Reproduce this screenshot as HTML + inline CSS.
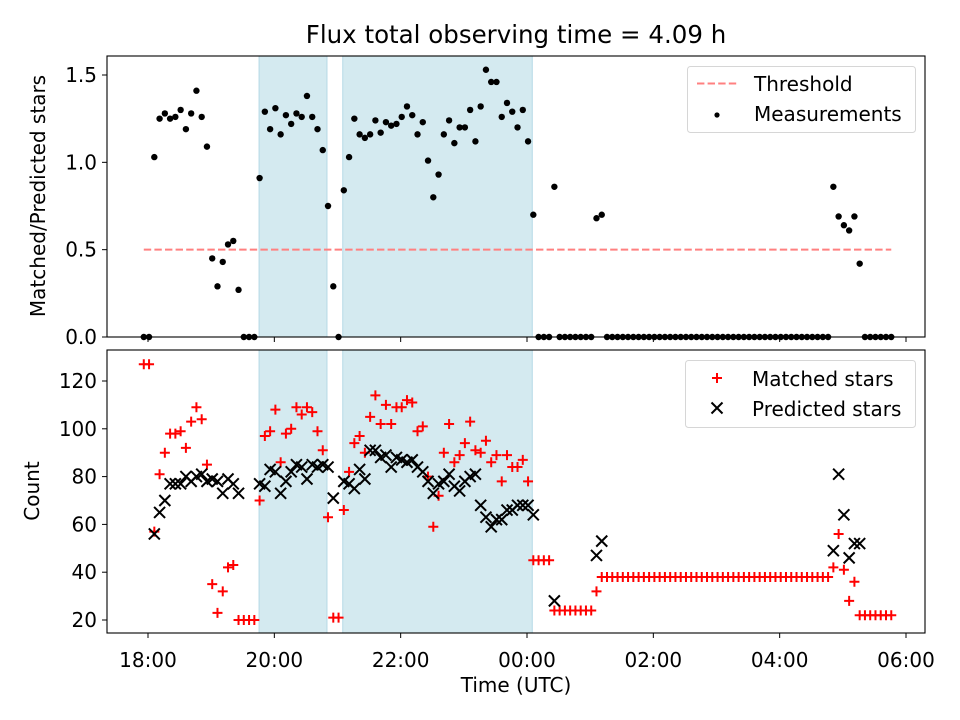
<!DOCTYPE html>
<html><head><meta charset="utf-8">
<style>
body{margin:0;background:#fff;}
svg{display:block;font-family:"DejaVu Sans","Liberation Sans",sans-serif;}
</style></head>
<body>
<svg id="chart" width="960" height="720" viewBox="0 0 960 720" xmlns="http://www.w3.org/2000/svg">
<rect width="960" height="720" fill="#fff"/>
<text x="516" y="43" font-size="24.5" text-anchor="middle" fill="#000">Flux total observing time = 4.09 h</text>
<g id="top"></g>
<g id="bot"></g>
<text transform="translate(45,196) rotate(-90)" font-size="20" text-anchor="middle">Matched/Predicted stars</text>
<text transform="translate(39,491) rotate(-90)" font-size="20" text-anchor="middle">Count</text>
<text x="516" y="692" font-size="20" text-anchor="middle">Time (UTC)</text>
</svg>
<script>
// minutes since 18:00 UTC
const times = [-4,1,6,11,16,21,26,31,36,41,46,51,56,61,66,71,76,81,86,91,96,101,106,111,116,121,126,131,136,141,146,151,156,161,166,171,176,181,186,191,196,201,206,211,216,221,226,231,236,241,246,251,256,261,266,271,276,281,286,291,296,301,306,311,316,321,326,331,336,341,346,351,356,361,366,371,376,381,386,391,396,401,406,411,416,421,426,431,436,441,446,451,456,461,466,471,476,481,486,491,496,501,506,511,516,521,526,531,536,541,546,551,556,561,566,571,576,581,586,591,596,601,606,611,616,621,626,631,636,641,646,651,656,661,666,671,676,681,686,691,696,701,706];
const ratio = [0,0,
1.03,1.25,1.28,1.25,1.26,1.30,1.19,1.28,1.41,1.26,1.09,0.45,0.29,0.43,0.53,0.55,0.27,
0,0,0,
0.91,1.29,1.19,1.31,1.16,1.27,1.22,1.28,1.26,1.38,1.26,1.19,1.07,0.75,0.29,0,
0.84,1.03,1.25,1.16,1.14,1.16,1.24,1.17,1.23,1.21,1.22,1.26,1.32,1.27,1.16,1.23,1.01,0.80,0.93,1.16,1.24,1.11,1.20,1.20,1.30,1.12,1.32,1.53,1.46,1.46,1.26,1.34,1.29,1.20,1.30,1.12,0.70,
0,0,0,
0.86,
0,0,0,0,0,0,0,
0.68,0.70,
0,0,0,0,0,0,0,0,0,0, 0,0,0,0,0,0,0,0,0,0, 0,0,0,0,0,0,0,0,0,0, 0,0,0,0,0,0,0,0,0,0, 0,0,0,
0.86,0.69,0.64,0.61,0.69,0.42,
0,0,0,0,0,0];
const matched = [127,127,
57,81,90,98,98,99,92,103,109,104,85,35,23,32,42,43,20,
20,20,20,
70,97,99,108,86,98,100,109,106,109,107,99,91,63,21,21,
66,82,94,97,90,105,114,102,110,102,109,109,112,111,99,101,80,59,72,90,102,86,89,94,103,91,90,95,86,89,78,89,84,84,87,78,45,
45,45,45,
24,24,24,24,24,24,24,24,
32,38,
38,38,38,38,38,38,38,38,38,38, 38,38,38,38,38,38,38,38,38,38, 38,38,38,38,38,38,38,38,38,38, 38,38,38,38,38,38,38,38,38,38, 38,38,38,
42,56,41,28,36,22,
22,22,22,22,22,22];
const predicted = [null,null,
56,65,70,77,77,77,80,78,80,81,78,79,78,73,79,77,73,
null,null,null,
77,76,83,82,73,78,82,85,84,79,85,84,85,84,71,null,
78,77,75,83,79,91,91,88,89,84,88,87,86,87,84,82,78,73,77,78,81,76,74,78,80,81,68,63,59,62,62,66,66,68,68,68,64,
null,null,null,
28,
null,null,null,null,null,null,null,
47,53,
null,null,null,null,null,null,null,null,null,null, null,null,null,null,null,null,null,null,null,null, null,null,null,null,null,null,null,null,null,null, null,null,null,null,null,null,null,null,null,null, null,null,null,
49,81,64,46,52,52,
null,null,null,null,null,null];
const spans = [[105.5,170],[185,365]];
const threshold = 0.5;
const xTickLabels = ["18:00","20:00","22:00","00:00","02:00","04:00","06:00"];
const xTickMinutes = [0,120,240,360,480,600,720];
const topTicks = [0.0,0.5,1.0,1.5];
const botTicks = [20,40,60,80,100,120];

const NS="http://www.w3.org/2000/svg";
const L=107,R=925;
const xs=t=>148+t*(906-148)/720;
const yTop=v=>337-v*(337-75)/1.5;
const yBot=c=>620-(c-20)*(620-381)/100;
function el(tag,attrs,parent){const e=document.createElementNS(NS,tag);for(const k in attrs)e.setAttribute(k,attrs[k]);parent.appendChild(e);return e;}

function axes(g,T,B,yf,ticks,fmt,showX,prefix){
  spans.forEach((s,i)=>{
    const r=el('rect',{x:xs(s[0]),y:T,width:xs(s[1])-xs(s[0]),height:B-T,fill:'#d4eaf0',stroke:'#b5d9e6','stroke-width':1},g);
    
    
  });
  xTickMinutes.forEach((m,i)=>{
    const x=xs(m);
    const t=el('line',{x1:x,x2:x,y1:B,y2:B+5,stroke:'#000','stroke-width':1},g);
    
    
    if(showX){
      const tx=el('text',{x:x,y:B+34,'font-size':20,'text-anchor':'middle'},g);
      tx.textContent=xTickLabels[i];
      
      
    }
  });
  ticks.forEach(v=>{
    const y=yf(v);
    const t=el('line',{x1:L-5,x2:L,y1:y,y2:y,stroke:'#000','stroke-width':1},g);
    
    
    const tx=el('text',{x:L-10,y:y+7,'font-size':20,'text-anchor':'end'},g);
    tx.textContent=fmt(v);
    
    
  });
}
function frame(g,T,B,prefix){
  const f=el('rect',{x:L,y:T,width:R-L,height:B-T,fill:'none',stroke:'#000','stroke-width':1.1},g);
  
  
}

// top panel
const gt=document.getElementById('top');
axes(gt,56,337,yTop,topTicks,v=>v.toFixed(1),false,'top');
const th=el('line',{x1:xs(times[0]),x2:xs(times[times.length-1]),y1:yTop(threshold),y2:yTop(threshold),stroke:'#ff8080','stroke-width':2,'stroke-dasharray':'7.4,3.2'},gt);


times.forEach((t,i)=>{
  const c=el('circle',{cx:xs(t),cy:yTop(ratio[i]),r:3.2,fill:'#000'},gt);
  
  
});
frame(gt,56,337,'top');

// bottom panel
const gb=document.getElementById('bot');
axes(gb,350,633,yBot,botTicks,v=>String(v),true,'bottom');
times.forEach((t,i)=>{
  const x=xs(t),y=yBot(matched[i]),s=5;
  const p=el('path',{d:`M${x-s},${y}H${x+s}M${x},${y-s}V${y+s}`,stroke:'#f00','stroke-width':2,fill:'none'},gb);
  
  
});
times.forEach((t,i)=>{
  if(predicted[i]===null)return;
  const x=xs(t),y=yBot(predicted[i]),s=5.5;
  const p=el('path',{d:`M${x-s},${y-s}L${x+s},${y+s}M${x-s},${y+s}L${x+s},${y-s}`,stroke:'#000','stroke-width':2,fill:'none'},gb);
  
  
});
frame(gb,350,633,'bottom');
</script>
<svg style="position:absolute;left:0;top:0" width="960" height="720">
<g font-family="DejaVu Sans, Liberation Sans, sans-serif" font-size="20">
<rect x="687.5" y="66.5" width="228" height="66" rx="3" fill="#fff" fill-opacity="0.8" stroke="#d6d6d6"/>
<line x1="697" x2="737" y1="83.5" y2="83.5" stroke="#ff8080" stroke-width="2" stroke-dasharray="7.4,3.2"/>
<text x="754" y="91">Threshold</text>
<circle cx="717" cy="115" r="2.6" fill="#000"/>
<text x="754" y="121">Measurements</text>
</g>
<g font-family="DejaVu Sans, Liberation Sans, sans-serif" font-size="20">
<rect x="685.5" y="360.5" width="230" height="67" rx="3" fill="#fff" fill-opacity="0.8" stroke="#d6d6d6"/>
<path d="M712,378H722M717,373V383" stroke="#f00" stroke-width="2"/>
<text x="752" y="386">Matched stars</text>
<path d="M711.5,402.5L722.5,413.5M711.5,413.5L722.5,402.5" stroke="#000" stroke-width="2"/>
<text x="752" y="416">Predicted stars</text>
</g>
</svg>
</body></html>
